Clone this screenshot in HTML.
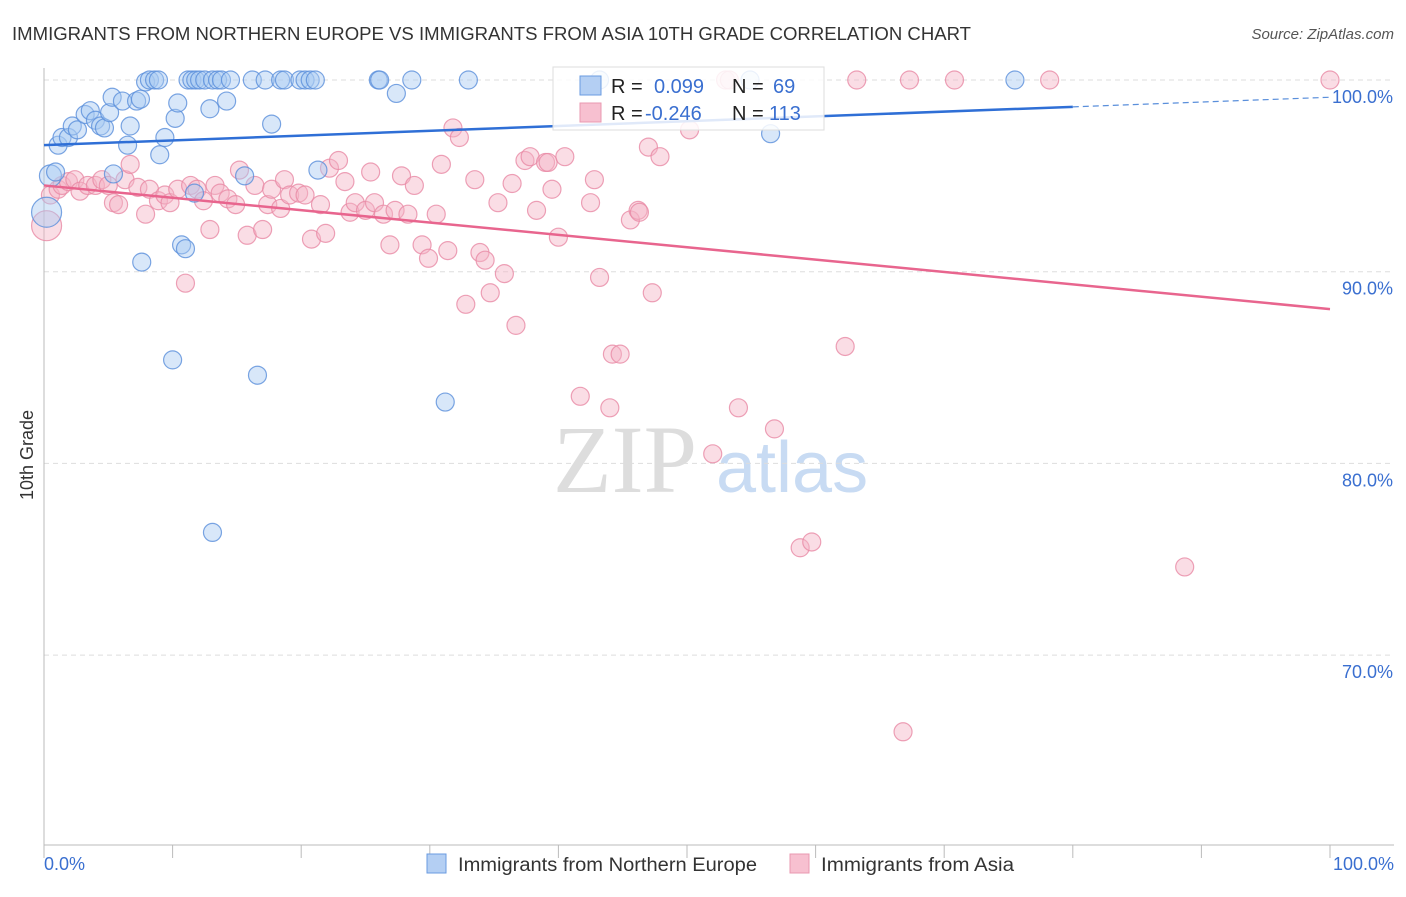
<!DOCTYPE html>
<html><head><meta charset="utf-8"><style>
body{margin:0;background:#fff;font-family:"Liberation Sans",sans-serif}
</style></head><body>
<svg id="c" width="1406" height="892" xmlns="http://www.w3.org/2000/svg" font-family="Liberation Sans, sans-serif">
<text x="12" y="40" font-size="18" fill="#333" textLength="959" lengthAdjust="spacingAndGlyphs">IMMIGRANTS FROM NORTHERN EUROPE VS IMMIGRANTS FROM ASIA 10TH GRADE CORRELATION CHART</text>
<text x="1394" y="39" font-size="15" fill="#555" text-anchor="end" font-style="italic">Source: ZipAtlas.com</text>
<text x="33" y="455" font-size="18" fill="#333" transform="rotate(-90 33 455)" text-anchor="middle">10th Grade</text>
<g><text x="553" y="492" font-size="96" fill="#ddd" font-family="Liberation Serif, serif">ZIP</text><text x="716" y="492" font-size="72" fill="#c8dbf3">atlas</text></g>
<g id="grid"></g><g id="axes"></g><g id="pts"></g><g id="trends"></g>
<g>
<rect x="553" y="67" width="271" height="63" fill="#fff" fill-opacity="0.85" stroke="#ddd"/>
<rect x="580" y="76" width="21" height="19" fill="#b4cff3" stroke="#6a9be0"/>
<rect x="580" y="103" width="21" height="19" fill="#f7c0d0" stroke="#ea98b0"/>
<text x="611" y="93" font-size="20" fill="#222">R = <tspan fill="#3a6fd0" x="654">0.099</tspan><tspan fill="#222" x="732">N = </tspan><tspan fill="#3a6fd0" x="773">69</tspan></text>
<text x="611" y="120" font-size="20" fill="#222">R = <tspan fill="#3a6fd0" x="645">-0.246</tspan><tspan fill="#222" x="732">N = </tspan><tspan fill="#3a6fd0" x="769">113</tspan></text>
</g>
<g>
<rect x="427" y="854" width="19" height="19" fill="#b4cff3" stroke="#6a9be0"/>
<text x="458" y="871" font-size="19" fill="#333" textLength="299" lengthAdjust="spacingAndGlyphs">Immigrants from Northern Europe</text>
<rect x="790" y="854" width="19" height="19" fill="#f7c0d0" stroke="#ea98b0"/>
<text x="821" y="871" font-size="19" fill="#333" textLength="193" lengthAdjust="spacingAndGlyphs">Immigrants from Asia</text>
</g>
</svg>
<script>
const yTicks=[100,90,80,70];
const xTickLabels=["0.0%","100.0%"];
const blueX=[0.2,0.5,0.9,1.1,1.4,1.9,2.2,2.6,3.2,3.6,4.0,4.4,4.7,5.1,5.3,6.1,6.5,6.7,7.2,7.5,7.9,8.2,8.6,8.9,9.0,9.4,10.0,10.2,10.4,10.7,11.0,11.2,11.5,11.8,12.1,12.5,12.9,13.1,13.5,13.8,14.2,14.5,15.6,16.2,16.6,17.2,17.7,18.4,18.7,19.9,20.3,20.7,21.1,21.3,26.0,26.1,27.4,28.6,31.2,33.0,7.6,13.1,75.5,56.5,5.4,11.7,43.2,54.9];
const blueY=[93.1,95.0,95.2,96.6,97.0,97.0,97.6,97.4,98.2,98.4,97.9,97.6,97.5,98.3,99.1,98.9,96.6,97.6,98.9,99.0,99.9,100,100,100,96.1,97.0,85.4,98.0,98.8,91.4,91.2,100,100,100,100,100,98.5,100,100,100,98.9,100,95.0,100,84.6,100,97.7,100,100,100,100,100,100,95.3,100,100,99.3,100,83.2,100,90.5,76.4,100,97.2,95.1,94.1,100,100];
const pinkX=[0.2,0.5,1.1,1.4,1.9,2.4,2.8,3.4,4.0,4.5,5.0,5.4,5.8,6.3,6.7,7.3,7.9,8.2,8.9,9.4,9.8,10.4,11.0,11.4,11.9,12.4,12.9,13.3,13.7,14.3,14.9,15.2,15.8,16.4,17.0,17.4,17.7,18.4,18.7,19.1,19.8,20.3,20.8,21.5,21.9,22.2,22.9,23.4,23.8,24.2,25.0,25.4,25.7,26.4,26.9,27.3,27.8,28.3,28.8,29.4,29.9,30.5,30.9,31.4,31.8,32.3,32.8,33.5,33.9,34.3,34.7,35.3,35.8,36.4,36.7,37.4,37.8,38.3,39.0,39.5,40.0,40.5,41.7,42.5,42.8,43.2,44.0,44.2,44.8,45.6,46.2,47.0,47.3,47.9,50.2,52.0,53.0,53.3,54.0,56.8,58.8,59.7,62.3,63.2,66.8,67.3,70.8,78.2,88.7,100,46.3,39.2];
const pinkY=[92.4,94.0,94.3,94.5,94.7,94.8,94.2,94.5,94.5,94.8,94.5,93.6,93.5,94.8,95.6,94.4,93.0,94.3,93.7,94.0,93.6,94.3,89.4,94.5,94.3,93.7,92.2,94.5,94.1,93.8,93.5,95.3,91.9,94.5,92.2,93.5,94.3,93.3,94.8,94.0,94.1,94.0,91.7,93.5,92.0,95.4,95.8,94.7,93.1,93.6,93.2,95.2,93.6,93.0,91.4,93.2,95.0,93.0,94.5,91.4,90.7,93.0,95.6,91.1,97.5,97.0,88.3,94.8,91.0,90.6,88.9,93.6,89.9,94.6,87.2,95.8,96.0,93.2,95.7,94.3,91.8,96.0,83.5,93.6,94.8,89.7,82.9,85.7,85.7,92.7,93.2,96.5,88.9,96.0,97.4,80.5,100,100,82.9,81.8,75.6,75.9,86.1,100,66.0,100,100,100,74.6,100,93.1,95.7];
const blueBig=[0,1];const pinkBig=[0];
const blueTrend=[96.6,99.1];const pinkTrend=[94.5,88.05];
const NS="http://www.w3.org/2000/svg";
const X=v=>44+v*12.86, Y=v=>80+(100-v)*19.17;
function mk(t,a,p){const e=document.createElementNS(NS,t);for(const k in a)e.setAttribute(k,a[k]);document.getElementById(p).appendChild(e);return e;}
yTicks.forEach(t=>{const l=mk('line',{x1:44,x2:1394,y1:Y(t),y2:Y(t),stroke:'#ddd','stroke-dasharray':'5,4'},'grid');


const tx=mk('text',{x:1393,y:Y(t)+23,'font-size':18,fill:'#3a6fd0','text-anchor':'end'},'grid');tx.textContent=t.toFixed(1)+'%';

});
let a=mk('line',{x1:44,x2:44,y1:68,y2:845,stroke:'#bbb'},'axes');


a=mk('line',{x1:44,x2:1394,y1:845,y2:845,stroke:'#bbb'},'axes');


for(let i=0;i<=10;i++){const t=mk('line',{x1:X(i*10),x2:X(i*10),y1:845,y2:858,stroke:'#bbb'},'axes');

}
[[0,'start',44],[1,'end',1394]].forEach(([i,an,x])=>{const t=mk('text',{x:x,y:870,'font-size':18,fill:'#3a6fd0','text-anchor':an},'axes');t.textContent=xTickLabels[i];

});
function pts(xs,ys,big,fill,st,name){xs.forEach((x,i)=>{const c=mk('circle',{cx:X(x),cy:Y(ys[i]),r:big.includes(i)?(i==0?15:11):9,fill:fill,'fill-opacity':0.45,stroke:st,'stroke-width':1.2,'stroke-opacity':0.8},'pts');

});}
pts(pinkX,pinkY,pinkBig,'#f4b3c6','#e88aa5','point-asia');
pts(blueX,blueY,blueBig,'#a9c9f1','#5a8fdb','point-northern-europe');
const bt=v=>blueTrend[0]+(blueTrend[1]-blueTrend[0])*v/100;
let l=mk('line',{x1:X(0),y1:Y(bt(0)),x2:X(80),y2:Y(bt(80)),stroke:'#2f6fd6','stroke-width':2.5},'trends');


l=mk('line',{x1:X(80),y1:Y(bt(80)),x2:X(100),y2:Y(bt(100)),stroke:'#5a8fdb','stroke-width':1.2,'stroke-dasharray':'6,4'},'trends');


l=mk('line',{x1:X(0),y1:Y(pinkTrend[0]),x2:X(100),y2:Y(pinkTrend[1]),stroke:'#e8658e','stroke-width':2.5},'trends');


</script>
</body></html>
